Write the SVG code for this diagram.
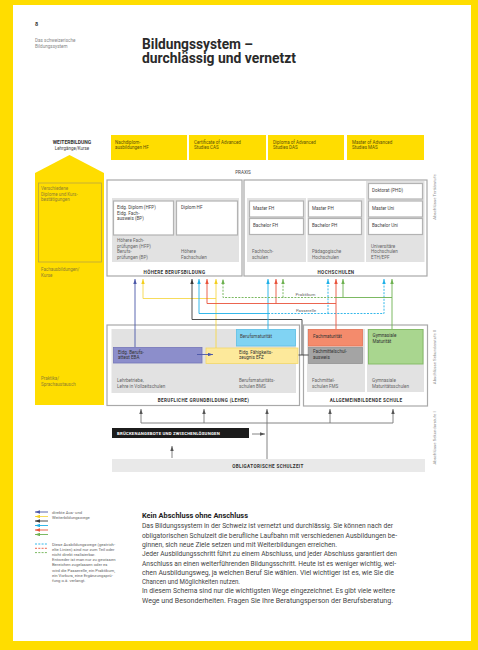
<svg xmlns="http://www.w3.org/2000/svg" width="478" height="650" viewBox="0 0 478 650">
<defs>
<style>
text{font-family:Roboto,"Liberation Sans",Arial,sans-serif}
.t{font-size:4.6px;fill:#666}
.tk{font-size:4.6px;fill:#444}
.ty{font-size:4.5px;fill:#5c5208}
.tl{font-size:4.5px;fill:#8f8030}
.hd{font-size:4.6px;font-weight:bold;fill:#333;letter-spacing:0.35px;text-anchor:middle}
.side{font-size:4.3px;fill:#8c8c8c;text-anchor:middle}
.lg{font-size:4.2px;fill:#666}
.body{font-size:6.4px;fill:#444}
.frame{fill:#fff;stroke:#a9a9a9;stroke-width:1.2}
.gray{fill:#e2e2e2}
.wb{fill:#fff;stroke:#b3b3b3;stroke-width:1.2}
.yb{fill:#ffdd00}
.ln{fill:none;stroke-width:0.9}
.dash{stroke-dasharray:2 1.3}
.blue{stroke:#4b57a8}
.yel{stroke:#f6d84a}
.blk{stroke:#3a3a3a}
.cyan{stroke:#1eb0e8}
.red{stroke:#e9533c}
.grn{stroke:#6db150}
.gry{stroke:#777}
</style>
<marker id="ah-blue" viewBox="0 0 10 6" refX="10" refY="3" markerUnits="userSpaceOnUse" markerWidth="5" markerHeight="3.4" orient="auto" preserveAspectRatio="none"><path d="M0,0L10,3L0,6z" fill="#4b57a8"/></marker>
<marker id="ah-yel" viewBox="0 0 10 6" refX="10" refY="3" markerUnits="userSpaceOnUse" markerWidth="5" markerHeight="3.4" orient="auto" preserveAspectRatio="none"><path d="M0,0L10,3L0,6z" fill="#f3cf1e"/></marker>
<marker id="ah-blk" viewBox="0 0 10 6" refX="10" refY="3" markerUnits="userSpaceOnUse" markerWidth="5" markerHeight="3.4" orient="auto" preserveAspectRatio="none"><path d="M0,0L10,3L0,6z" fill="#3a3a3a"/></marker>
<marker id="ah-cyan" viewBox="0 0 10 6" refX="10" refY="3" markerUnits="userSpaceOnUse" markerWidth="5" markerHeight="3.4" orient="auto" preserveAspectRatio="none"><path d="M0,0L10,3L0,6z" fill="#1eb0e8"/></marker>
<marker id="ah-red" viewBox="0 0 10 6" refX="10" refY="3" markerUnits="userSpaceOnUse" markerWidth="5" markerHeight="3.4" orient="auto" preserveAspectRatio="none"><path d="M0,0L10,3L0,6z" fill="#e9533c"/></marker>
<marker id="ah-grn" viewBox="0 0 10 6" refX="10" refY="3" markerUnits="userSpaceOnUse" markerWidth="5" markerHeight="3.4" orient="auto" preserveAspectRatio="none"><path d="M0,0L10,3L0,6z" fill="#6db150"/></marker>
<marker id="ah-gry" viewBox="0 0 10 6" refX="10" refY="3" markerUnits="userSpaceOnUse" markerWidth="5" markerHeight="3.4" orient="auto" preserveAspectRatio="none"><path d="M0,0L10,3L0,6z" fill="#555"/></marker>
</defs>

<!-- page: yellow border with white sheet -->
<rect x="0" y="0" width="478" height="650" fill="#ffdd00"/>
<rect x="13" y="5" width="458" height="636" fill="#fff"/>

<!-- header -->
<g id="header">
<text x="35" y="26" style="font-size:5.5px;font-weight:bold;fill:#333">8</text>
<text x="35" y="42" style="font-size:4.6px;fill:#888">Das schweizerische</text>
<text x="35" y="48" style="font-size:4.6px;fill:#888">Bildungssystem</text>
<text x="142" y="48.5" style="font-size:14px;font-weight:bold;fill:#2a2a2a" textLength="111" lengthAdjust="spacingAndGlyphs">Bildungssystem –</text>
<text x="142" y="63" style="font-size:14px;font-weight:bold;fill:#2a2a2a" textLength="154" lengthAdjust="spacingAndGlyphs">durchlässig und vernetzt</text>
</g>

<!-- Weiterbildung column -->
<g id="weiterbildung">
<text x="72" y="144" style="font-size:5px;font-weight:bold;fill:#333;text-anchor:middle">WEITERBILDUNG</text>
<text x="72" y="150" style="font-size:4.5px;fill:#444;text-anchor:middle">Lehrgänge/Kurse</text>
<polygon points="35,173 69.5,155 104,173 104,405 35,405" class="yb"/>
<rect x="38.5" y="183" width="63" height="79" fill="none" stroke="#b9a640" stroke-width="0.8"/>
<text x="41" y="190" class="tl">Verschiedene</text>
<text x="41" y="195.5" class="tl">Diplome und Kurs-</text>
<text x="41" y="201" class="tl">bestätigungen</text>
<text x="41" y="271" class="tl">Fachausbildungen/</text>
<text x="41" y="276.5" class="tl">Kurse</text>
<text x="41" y="380" class="tl">Praktika/</text>
<text x="41" y="385.5" class="tl">Sprachaustausch</text>
</g>

<!-- further education offers -->
<g id="nachdiplom">
<rect x="111" y="135" width="76" height="25" class="yb"/>
<text x="115" y="143.5" class="ty">Nachdiplom-</text>
<text x="115" y="148.5" class="ty">ausbildungen HF</text>
</g>
<g id="cas">
<rect x="189" y="135" width="77" height="25" class="yb"/>
<text x="194" y="143.5" class="ty">Certificate of Advanced</text>
<text x="194" y="148.5" class="ty">Studies CAS</text>
</g>
<g id="das">
<rect x="268" y="135" width="76" height="25" class="yb"/>
<text x="273" y="143.5" class="ty">Diploma of Advanced</text>
<text x="273" y="148.5" class="ty">Studies DAS</text>
</g>
<g id="mas">
<rect x="347" y="135" width="77" height="25" class="yb"/>
<text x="352" y="143.5" class="ty">Master of Advanced</text>
<text x="352" y="148.5" class="ty">Studies MAS</text>
</g>

<text x="243" y="173.5" style="font-size:4.6px;fill:#444;text-anchor:middle">PRAXIS</text>

<!-- tertiary level -->
<g id="hoehere-berufsbildung">
<rect x="107" y="180" width="135" height="96" class="frame"/>
<rect x="112" y="198" width="127" height="64" class="gray"/>
<rect x="113.5" y="201" width="60" height="34" class="wb"/>
<rect x="176.5" y="201" width="61" height="34" class="wb"/>
<text x="117" y="209" class="tk">Eidg. Diplom (HFP)</text>
<text x="117" y="214.5" class="tk">Eidg. Fach-</text>
<text x="117" y="220" class="tk">ausweis (BP)</text>
<text x="181" y="209" class="tk">Diplom HF</text>
<text x="117" y="242" class="t">Höhere Fach-</text>
<text x="117" y="247.5" class="t">prüfungen (HFP)</text>
<text x="117" y="253" class="t">Berufs-</text>
<text x="117" y="258.5" class="t">prüfungen (BP)</text>
<text x="181" y="253" class="t">Höhere</text>
<text x="181" y="258.5" class="t">Fachschulen</text>
<text x="174.5" y="273.5" class="hd">HÖHERE BERUFSBILDUNG</text>
</g>

<g id="hochschulen">
<rect x="244" y="180" width="183" height="96" class="frame"/>
<rect x="247" y="198" width="59" height="64" class="gray"/>
<rect x="307.5" y="198" width="57" height="64" class="gray"/>
<rect x="366" y="181" width="58.5" height="81" class="gray"/>
<rect x="249.5" y="201" width="54" height="16" class="wb"/>
<rect x="249.5" y="218.5" width="54" height="16" class="wb"/>
<rect x="308.5" y="201" width="53" height="16" class="wb"/>
<rect x="308.5" y="218.5" width="53" height="16" class="wb"/>
<rect x="368.5" y="183.5" width="54" height="15.5" class="wb"/>
<rect x="368.5" y="201" width="54" height="16" class="wb"/>
<rect x="368.5" y="218.5" width="54" height="16" class="wb"/>
<text x="253" y="209.5" class="tk">Master FH</text>
<text x="253" y="227" class="tk">Bachelor FH</text>
<text x="312" y="209.5" class="tk">Master PH</text>
<text x="312" y="227" class="tk">Bachelor PH</text>
<text x="372" y="192" class="tk">Doktorat (PHD)</text>
<text x="372" y="209.5" class="tk">Master Uni</text>
<text x="372" y="227" class="tk">Bachelor Uni</text>
<text x="252" y="253" class="t">Fachhoch-</text>
<text x="252" y="258.5" class="t">schulen</text>
<text x="312" y="253" class="t">Pädagogische</text>
<text x="312" y="258.5" class="t">Hochschulen</text>
<text x="371" y="247.5" class="t">Universitäre</text>
<text x="371" y="253" class="t">Hochschulen</text>
<text x="371" y="258.5" class="t">ETH/EPF</text>
<text x="336" y="273.5" class="hd">HOCHSCHULEN</text>
</g>

<!-- upper secondary level -->
<g id="berufliche-grundbildung">
<rect x="107" y="325" width="192.5" height="80.5" class="frame"/>
<rect x="111.5" y="329" width="184.5" height="64" class="gray"/>
<text x="117" y="382" class="t">Lehrbetriebe,</text>
<text x="117" y="387.5" class="t">Lehre in Vollzeitschulen</text>
<text x="239" y="382" class="t">Berufsmaturitäts-</text>
<text x="239" y="387.5" class="t">schulen BMS</text>
<text x="203.5" y="402" class="hd">BERUFLICHE GRUNDBILDUNG (LEHRE)</text>
</g>
<g id="berufsmaturitaet">
<rect x="236.5" y="329.5" width="59" height="16.5" fill="#80d3f3" stroke="#5dc0e6" stroke-width="0.8"/>
<text x="240" y="337.5" class="tk">Berufsmaturität</text>
</g>
<g id="eba">
<rect x="113.5" y="347.5" width="88.5" height="15.5" fill="#8c8ecb" stroke="#7476b8" stroke-width="0.8"/>
<text x="118" y="353.5" class="tk" style="fill:#333">Eidg. Berufs-</text>
<text x="118" y="358.5" class="tk" style="fill:#333">attest EBA</text>
</g>
<g id="efz">
<rect x="206" y="348" width="92" height="15.5" fill="#fde99b" stroke="#f3d866" stroke-width="0.8"/>
<text x="239" y="353.5" class="tk" style="fill:#333">Eidg. Fähigkeits-</text>
<text x="239" y="358.5" class="tk" style="fill:#333">zeugnis EFZ</text>
</g>

<g id="allgemeinbildende-schule">
<rect x="303.5" y="325" width="124" height="81" class="frame"/>
<rect x="307" y="329" width="58" height="63" class="gray"/>
<rect x="367" y="329" width="57" height="63" class="gray"/>
<text x="312" y="382" class="t">Fachmittel-</text>
<text x="312" y="387.5" class="t">schulen FMS</text>
<text x="372" y="382" class="t">Gymnasiale</text>
<text x="372" y="387.5" class="t">Maturitätsschulen</text>
<text x="366" y="401.5" class="hd">ALLGEMEINBILDENDE SCHULE</text>
</g>
<g id="fachmaturitaet">
<rect x="308.5" y="329.5" width="54" height="16.5" fill="#f48b6c" stroke="#e57355" stroke-width="0.8"/>
<text x="313" y="337.5" class="tk" style="fill:#333">Fachmaturität</text>
</g>
<g id="fachmittelschulausweis">
<rect x="308.5" y="347.5" width="54" height="16" fill="#a4a4a4" stroke="#939393" stroke-width="0.8"/>
<text x="313" y="353" class="tk" style="fill:#333">Fachmittelschul-</text>
<text x="313" y="358.5" class="tk" style="fill:#333">ausweis</text>
</g>
<g id="gymnasiale-maturitaet">
<rect x="368.5" y="329.5" width="54.5" height="34.5" fill="#a9d68f" stroke="#80ba62" stroke-width="0.9"/>
<text x="372.5" y="337" class="tk" style="fill:#333">Gymnasiale</text>
<text x="372.5" y="342.5" class="tk" style="fill:#333">Maturität</text>
</g>

<!-- lower secondary and bridging -->
<g id="brueckenangebote">
<rect x="112" y="428" width="137" height="10" fill="#1c1c1c"/>
<text x="117" y="434.8" style="font-size:4.3px;font-weight:bold;fill:#fff;letter-spacing:0.2px">BRÜCKENANGEBOTE UND ZWISCHENLÖSUNGEN</text>
</g>
<g id="obligatorische-schulzeit">
<rect x="112" y="459" width="313" height="13" fill="#e9e9e9"/>
<text x="268" y="467.5" class="hd" style="font-weight:bold">OBLIGATORISCHE SCHULZEIT</text>
</g>

<!-- level captions -->
<g id="stufen">
<text transform="translate(436,197) rotate(-90)" class="side">Abschlüsse Tertiärstufe</text>
<text transform="translate(436,357) rotate(-90)" class="side">Abschlüsse Sekundarstufe II</text>
<text transform="translate(436,438) rotate(-90)" class="side">Abschlüsse Sekundarstufe I</text>
</g>

<!-- pathways -->
<g id="connectors">
<!-- blue -->
<path d="M135,347 V279" class="ln blue" marker-end="url(#ah-blue)"/>
<path d="M197,354.5 H213" class="ln blue" marker-end="url(#ah-blue)"/>
<!-- yellow -->
<path d="M216,348 V279" class="ln yel" marker-end="url(#ah-yel)"/>
<path d="M216,298.5 H143 V279" class="ln yel" marker-end="url(#ah-yel)"/>
<!-- black -->
<path d="M302,355 V319.5 H192 V279" class="ln blk" marker-end="url(#ah-blk)"/>
<path d="M298.5,355 H308.5" class="ln blk"/>
<!-- cyan -->
<path d="M268,329 V279" class="ln cyan" marker-end="url(#ah-cyan)"/>
<path d="M268,313.5 H199 V279" class="ln cyan" marker-end="url(#ah-cyan)"/>
<path d="M268,313.5 H384 V279" class="ln cyan dash" marker-end="url(#ah-cyan)"/>
<path d="M328,313.5 V279" class="ln cyan dash" marker-end="url(#ah-cyan)"/>
<!-- red -->
<path d="M336,329 V279" class="ln red" marker-end="url(#ah-red)"/>
<path d="M336,303.5 H207 V279" class="ln red" marker-end="url(#ah-red)"/>
<path d="M276,303.5 V279" class="ln red" marker-end="url(#ah-red)"/>
<!-- green -->
<path d="M392,329 V279" class="ln grn" marker-end="url(#ah-grn)"/>
<path d="M392,297.5 H343 V279" class="ln grn" marker-end="url(#ah-grn)"/>
<path d="M343,297.5 H336" class="ln grn"/>
<path d="M336,297.5 H223 V279" class="ln grn dash" marker-end="url(#ah-grn)"/>
<path d="M283,297.5 V279" class="ln grn dash" marker-end="url(#ah-grn)"/>
<!-- labels on the paths -->
<text x="305.5" y="296" style="font-size:4.4px;fill:#666;text-anchor:middle">Praktikum</text>
<text x="306" y="312" style="font-size:4.4px;fill:#666;text-anchor:middle">Passerelle</text>
<!-- from compulsory school -->
<path d="M141,423 H393" class="ln gry"/>
<path d="M141,423 V409" class="ln gry" marker-end="url(#ah-gry)"/>
<path d="M204,423 V409" class="ln gry" marker-end="url(#ah-gry)"/>
<path d="M267,459 V409" class="ln gry" marker-end="url(#ah-gry)"/>
<path d="M330,423 V409" class="ln gry" marker-end="url(#ah-gry)"/>
<path d="M393,423 V409" class="ln gry" marker-end="url(#ah-gry)"/>
<path d="M252,434 H265" class="ln gry" marker-end="url(#ah-gry)"/>
<path d="M172,458 V446" class="ln gry" marker-end="url(#ah-gry)"/>
</g>

<!-- legend -->
<g id="legend">
<path d="M48,512 H35" class="ln blue" marker-end="url(#ah-blue)"/>
<path d="M48,516.5 H35" class="ln yel" marker-end="url(#ah-yel)"/>
<path d="M48,521 H35" class="ln blk" marker-end="url(#ah-blk)"/>
<path d="M48,525.5 H35" class="ln cyan" marker-end="url(#ah-cyan)"/>
<path d="M48,530 H35" class="ln red" marker-end="url(#ah-red)"/>
<path d="M48,534.5 H35" class="ln grn" marker-end="url(#ah-grn)"/>
<text x="52" y="514" class="lg">direkte Aus- und</text>
<text x="52" y="519" class="lg">Weiterbildungswege</text>
<path d="M35,544 H48" class="ln cyan dash"/>
<path d="M35,548.3 H48" class="ln red dash"/>
<path d="M35,552.6 H48" class="ln grn dash"/>
<text x="52" y="545.5" class="lg">Diese Ausbildungswege (gestrich-</text>
<text x="52" y="550.7" class="lg">elte Linien) sind nur zum Teil oder</text>
<text x="52" y="555.9" class="lg">nicht direkt realisierbar.</text>
<text x="52" y="561.1" class="lg">Entweder ist man nur zu gewissen</text>
<text x="52" y="566.3" class="lg">Bereichen zugelassen oder es</text>
<text x="52" y="571.5" class="lg">wird die Passerelle, ein Praktikum,</text>
<text x="52" y="576.7" class="lg">ein Vorkurs, eine Ergänzungsprü-</text>
<text x="52" y="581.9" class="lg">fung o.ä. verlangt.</text>
</g>

<!-- explanatory text -->
<g id="text-block">
<text x="142" y="517.5" style="font-size:6.4px;font-weight:bold;fill:#222" textLength="106" lengthAdjust="spacingAndGlyphs">Kein Abschluss ohne Anschluss</text>
<text x="142" y="528" class="body" textLength="251" lengthAdjust="spacingAndGlyphs">Das Bildungssystem in der Schweiz ist vernetzt und durchlässig. Sie können nach der</text>
<text x="142" y="537.5" class="body" textLength="255" lengthAdjust="spacingAndGlyphs">obligatorischen Schulzeit die berufliche Laufbahn mit verschiedenen Ausbildungen be-</text>
<text x="142" y="547" class="body" textLength="195" lengthAdjust="spacingAndGlyphs">ginnen, sich neue Ziele setzen und mit Weiterbildungen erreichen.</text>
<text x="142" y="556.3" class="body" textLength="255" lengthAdjust="spacingAndGlyphs">Jeder Ausbildungsschritt führt zu einem Abschluss, und jeder Abschluss garantiert den</text>
<text x="142" y="565.6" class="body" textLength="254" lengthAdjust="spacingAndGlyphs">Anschluss an einen weiterführenden Bildungsschritt. Heute ist es weniger wichtig, wel-</text>
<text x="142" y="574.8" class="body" textLength="252" lengthAdjust="spacingAndGlyphs">chen Ausbildungsweg, ja welchen Beruf Sie wählen. Viel wichtiger ist es, wie Sie die</text>
<text x="142" y="584" class="body" textLength="98" lengthAdjust="spacingAndGlyphs">Chancen und Möglichkeiten nutzen.</text>
<text x="142" y="593.3" class="body" textLength="253" lengthAdjust="spacingAndGlyphs">In diesem Schema sind nur die wichtigsten Wege eingezeichnet. Es gibt viele weitere</text>
<text x="142" y="602.5" class="body" textLength="251" lengthAdjust="spacingAndGlyphs">Wege und Besonderheiten. Fragen Sie Ihre Beratungsperson der Berufsberatung.</text>
</g>
</svg>
